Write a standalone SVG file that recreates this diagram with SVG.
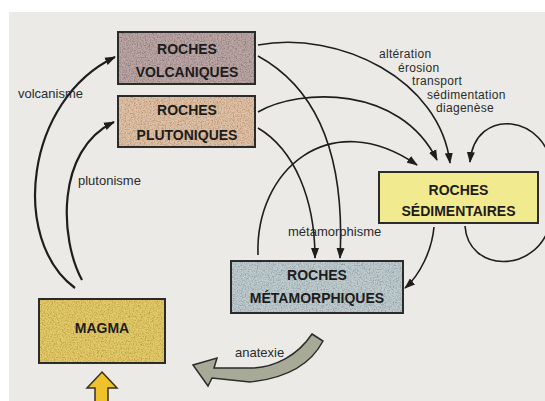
<svg xmlns="http://www.w3.org/2000/svg" width="545" height="401" viewBox="0 0 545 401">
<style>
.box{stroke:#2b2b2b;stroke-width:2}
.grain{filter:url(#grain)}
.lbl{font-family:"Liberation Sans",Arial,sans-serif;font-weight:bold;font-size:14px;fill:#1c1c1c;text-anchor:middle}
.sm{font-family:"Liberation Sans",Arial,sans-serif;font-size:13px;fill:#2a2a2a}
.st{font-size:12px;letter-spacing:0.3px}
.c{fill:none;stroke:#1e1e1e;stroke-width:1.6;marker-end:url(#ah)}
.thick{stroke-width:2.2}
</style>
<defs>
<marker id="ah" markerUnits="userSpaceOnUse" markerWidth="11" markerHeight="9" viewBox="0 0 11 9" refX="10" refY="4.5" orient="auto">
<path d="M0,0.5 L11,4.5 L0,8.5 z" fill="#1e1e1e"/>
</marker>
<filter id="grain" x="0" y="0" width="100%" height="100%">
<feTurbulence type="fractalNoise" baseFrequency="0.75" numOctaves="2" seed="4" result="n"/>
<feColorMatrix in="n" type="matrix" values="0 0 0 0 0  0 0 0 0 0  0 0 0 0 0  1.5 0 0 0 -0.62" result="a"/>
<feComposite in="SourceGraphic" in2="a" operator="in"/>
</filter>
</defs>
<rect width="545" height="401" fill="#ffffff"/>
<rect x="9" y="12" width="536" height="389" fill="#ebeae6"/>

<g id="connectors">
<path class="c thick" d="M75,288 C10,240 25,100 115,57"/>
<path class="c thick" d="M82,280 C60,240 55,150 114,122"/>
<path class="c" d="M258,45 C340,30 440,80 450,163"/>
<path class="c" d="M258,56 C320,90 345,160 340,258"/>
<path class="c" d="M258,112 C300,88 400,85 437,160"/>
<path class="c" d="M258,128 C295,150 315,200 315,258"/>
<path class="c" d="M258,255 C255,170 330,105 417,165"/>
<path class="c" d="M465,226 C468,272 535,275 550,225 L552,170 C548,115 475,105 470,162"/>
<path class="c" d="M434,227 C432,250 420,275 405,288"/>
<path d="M312,334 L323,341 C312,362 290,378 250,382 L212,378 L208,386 L193,365 L217,358 L214,368 L250,368 C275,368 298,355 312,334 Z" fill="#a8aa98" stroke="#2b2b2b" stroke-width="1.5"/>
<polygon points="102,372 117,388 108,388 108,402 95,402 95,388 87,388" fill="#efc22c" stroke="#3a3020" stroke-width="1.5"/>
</g>

<g id="volcaniques">
<rect class="box" x="118" y="32" width="137" height="52" fill="#bba7a6"/>
<rect class="grain" x="119" y="33" width="135" height="50" fill="#6f5858"/>
<text class="lbl" x="187" y="54">ROCHES</text>
<text class="lbl" x="187" y="77">VOLCANIQUES</text>
</g>
<g id="plutoniques">
<rect class="box" x="118" y="96" width="137" height="51" fill="#dcc3aa"/>
<rect class="grain" x="119" y="97" width="135" height="49" fill="#a86a40"/>
<text class="lbl" x="187" y="115">ROCHES</text>
<text class="lbl" x="187" y="140">PLUTONIQUES</text>
</g>
<g id="sedimentaires">
<rect class="box" x="379" y="172" width="159" height="51" fill="#f1ea8e"/>
<text class="lbl" x="458.5" y="195">ROCHES</text>
<text class="lbl" x="458.5" y="216">SÉDIMENTAIRES</text>
</g>
<g id="metamorphiques">
<rect class="box" x="231" y="261" width="172" height="52" fill="#c0ccce"/>
<rect class="grain" x="232" y="262" width="170" height="50" fill="#6f8088"/>
<text class="lbl" x="317" y="280">ROCHES</text>
<text class="lbl" x="317" y="303">MÉTAMORPHIQUES</text>
</g>
<g id="magma">
<rect class="box" x="39" y="299" width="126" height="64" fill="#e3cb6c"/>
<rect class="grain" x="40" y="300" width="124" height="62" fill="#a08020"/>
<text class="lbl" x="102" y="333">MAGMA</text>
</g>

<g id="labels">
<text class="sm" x="18" y="98">volcanisme</text>
<text class="sm" x="78" y="185">plutonisme</text>
<text class="sm st" x="379" y="58">altération</text>
<text class="sm st" x="398" y="71.5">érosion</text>
<text class="sm st" x="412" y="85">transport</text>
<text class="sm st" x="427" y="98.5">sédimentation</text>
<text class="sm st" x="436" y="112">diagenèse</text>
<text class="sm" x="288" y="236">métamorphisme</text>
<text class="sm" x="235" y="357">anatexie</text>
</g>
</svg>
